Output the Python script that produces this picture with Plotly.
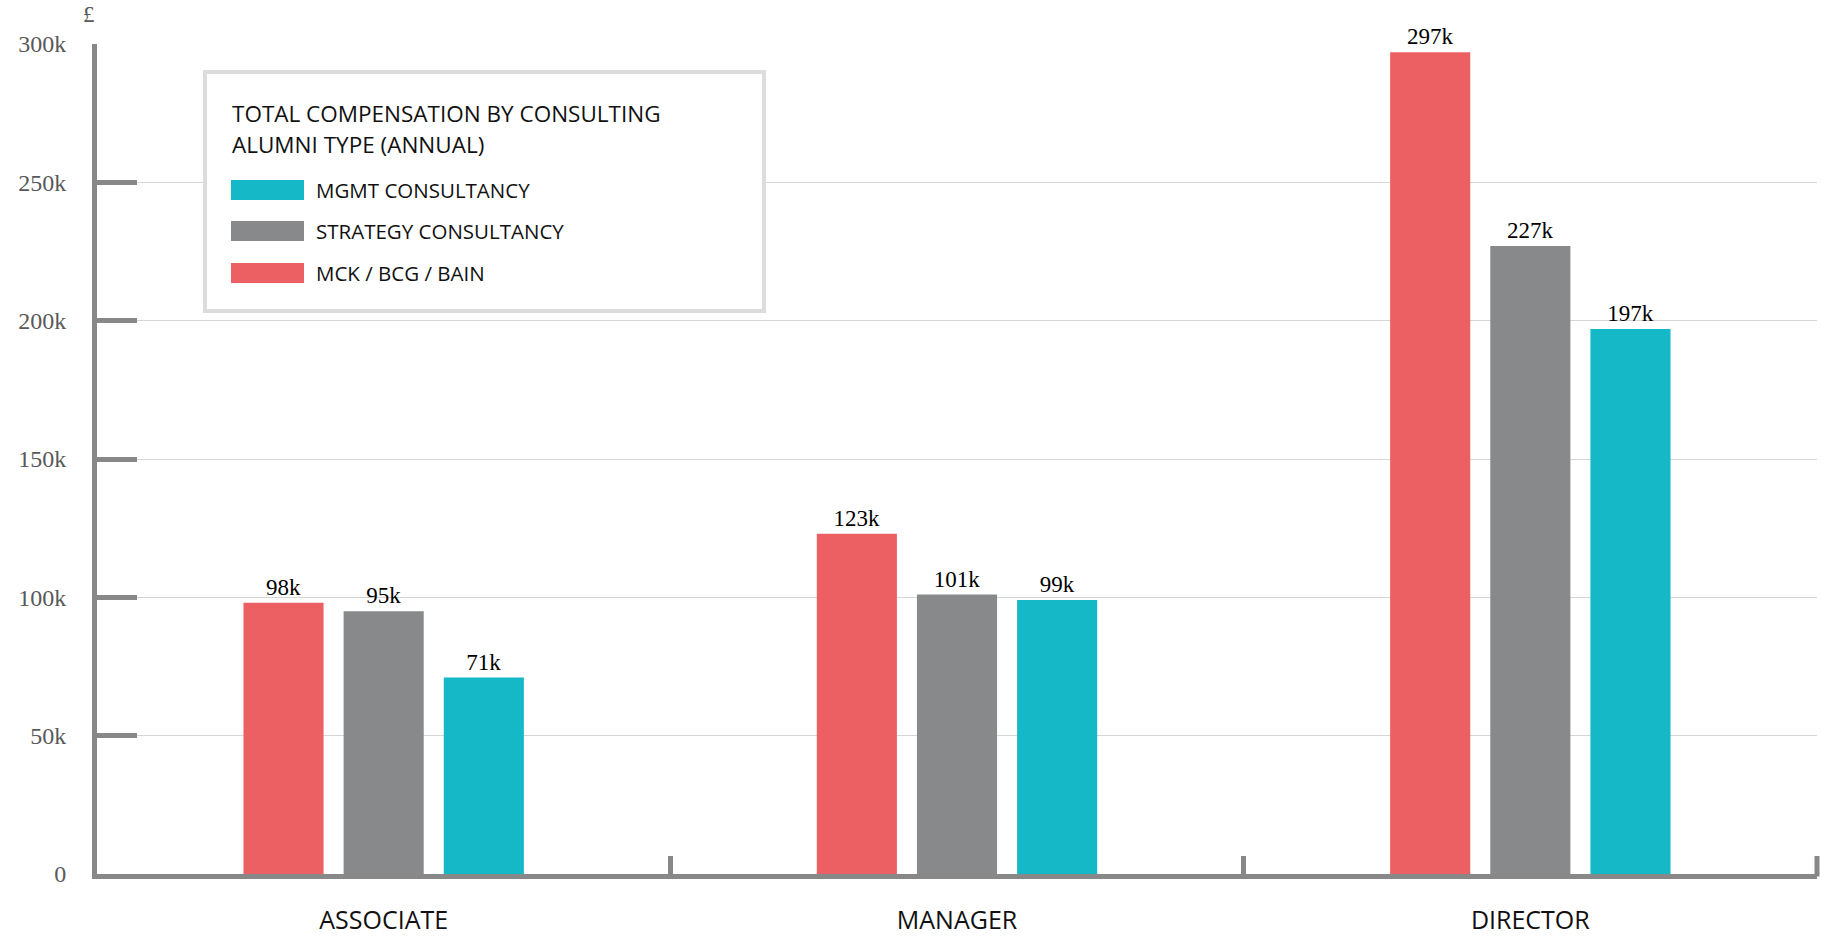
import plotly.graph_objects as go

# Data (annual total compensation, GBP)
levels = ["ASSOCIATE", "MANAGER", "DIRECTOR"]
series_names = ["MCK / BCG / BAIN", "STRATEGY CONSULTANCY", "MGMT CONSULTANCY"]
mck_bcg_bain = [98000, 123000, 297000]
strategy = [95000, 101000, 227000]
mgmt = [71000, 99000, 197000]
series_values = [mck_bcg_bain, strategy, mgmt]
series_colors = ["#EC6064", "#88898B", "#15B8C7"]
y_ticks = [0, 50000, 100000, 150000, 200000, 250000, 300000]
legend_title = ["TOTAL COMPENSATION BY CONSULTING", "ALUMNI TYPE (ANNUAL)"]

W, H = 1821, 936
L, R, T, B = 97, 4, 44, 62
PW, PH = W - L - R, H - T - B

def px(x):
    return (x - L) / PW

def py(y):
    return (H - B - y) / PH

AXIS = "#888888"
SANS = "Open Sans"
SERIF = "Liberation Serif"

fig = go.Figure()
for name, vals, col in zip(series_names, series_values, series_colors):
    fig.add_trace(go.Bar(
        x=levels, y=vals, name=name,
        marker=dict(color=col, line=dict(width=0)),
        texttemplate="%{y:~s}", textposition="outside",
        textfont=dict(family=SERIF, size=23, color="#000000"),
        cliponaxis=False,
    ))

fig.update_layout(
    width=W, height=H,
    margin=dict(l=L, r=R, t=T, b=B),
    paper_bgcolor="white", plot_bgcolor="white",
    barmode="group", bargap=0.476, bargroupgap=0.2,
    showlegend=False,
    xaxis=dict(
        type="category", range=[-0.5, 2.5], automargin=False,
        showline=True, linewidth=5, linecolor=AXIS,
        ticks="inside", tickson="boundaries", ticklen=18, tickwidth=5, tickcolor=AXIS,
        tickfont=dict(family=SANS, size=25, color="#111111"),
        ticklabelstandoff=20, showgrid=False, zeroline=False,
    ),
    yaxis=dict(
        range=[0, 300000], tickvals=y_ticks, tickformat="~s", automargin=False,
        showline=True, linewidth=5, linecolor=AXIS,
        ticks="inside", ticklen=40, tickwidth=5, tickcolor=AXIS,
        tickfont=dict(family=SERIF, size=24, color="#595959"),
        ticklabelstandoff=21,
        showgrid=True, gridcolor="#d6d6d6", gridwidth=1, zeroline=False,
    ),
)

# Closing tick at the right end of the category axis
fig.add_shape(type="line", xref="paper", yref="paper", x0=1, x1=1,
              y0=-2.5 / PH, y1=18 / PH, line=dict(color=AXIS, width=5))

# Currency marker above the value axis
fig.add_annotation(text="£", xref="paper", yref="paper", x=px(89), y=py(15),
                   showarrow=False, xanchor="center", yanchor="middle",
                   font=dict(family=SERIF, size=23, color="#595959"))

# Legend panel
fig.add_shape(type="rect", xref="paper", yref="paper",
              x0=px(205), x1=px(764), y0=py(72), y1=py(311),
              line=dict(color="#dcdcdc", width=4), fillcolor="white", layer="above")
for i, line in enumerate(legend_title):
    fig.add_annotation(text=line, xref="paper", yref="paper", x=px(230), y=py(113 + 31 * i),
                       showarrow=False, xanchor="left", yanchor="middle",
                       font=dict(family=SANS, size=22.5, color="#111111"))
legend_rows = [190, 231, 273]
for row_y, idx in zip(legend_rows, [2, 1, 0]):
    fig.add_shape(type="rect", xref="paper", yref="paper",
                  x0=px(231), x1=px(304), y0=py(row_y - 10), y1=py(row_y + 10),
                  line=dict(width=0), fillcolor=series_colors[idx], layer="above")
    fig.add_annotation(text=series_names[idx], xref="paper", yref="paper", x=px(314), y=py(row_y),
                       showarrow=False, xanchor="left", yanchor="middle",
                       font=dict(family=SANS, size=20.5, color="#111111"))

fig.write_html("out.html")
